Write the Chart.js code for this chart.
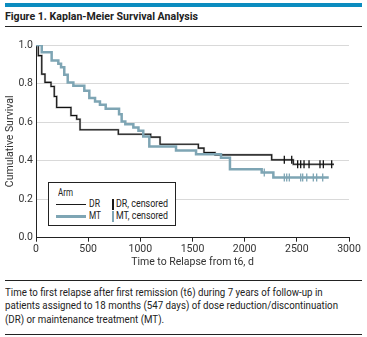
<!DOCTYPE html>
<html>
<head>
<meta charset="utf-8">
<script src="https://cdn.jsdelivr.net/npm/chart.js@4.4.0/dist/chart.umd.min.js"></script>
<style>
  body { margin: 0; background: #fff; font-family: 'Roboto', 'Liberation Sans', sans-serif; color: #222; }
  #page { position: relative; width: 367px; height: 337px; overflow: hidden; }
  .abs { position: absolute; }
  #bar { left: 5px; top: 3px; width: 357px; height: 4px; background: #0b8cbf; }
  #title { left: 5px; top: 9px; font-size: 11.5px; font-weight: bold; line-height: 14px; white-space: nowrap; transform-origin: 0 0; }
  .rule { left: 5px; width: 357px; height: 1px; background: #222; }
  #wrap { left: 0; top: 30px; width: 367px; height: 248px; }
  #legend { left: 48px; top: 182px; width: 126px; height: 42px; border: 1px solid #222; background: #fff; font-size: 11px; }
  #legend .t { position: absolute; line-height: 12px; white-space: nowrap; transform-origin: 0 0; }
  #caption { left: 5px; top: 286px; font-size: 11px; line-height: 13.4px; white-space: nowrap; transform-origin: 0 0; }
</style>
</head>
<body>
<div id="page">
  <div class="abs" id="bar"></div>
  <div class="abs" id="title">Figure 1. Kaplan-Meier Survival Analysis</div>
  <div class="abs rule" style="top:26px"></div>
  <div class="abs" id="wrap"><canvas id="km"></canvas></div>
  <div class="abs" id="legend">
    <div class="t" id="lgArm" style="left:9px; top:4px">Arm</div>
    <div style="position:absolute; left:7px; top:21px; width:30px; height:1px; background:#1a1a1a"></div>
    <div class="t" id="lgDr" style="left:40px; top:15px">DR</div>
    <div style="position:absolute; left:63px; top:16px; width:1.5px; height:11px; background:#1a1a1a"></div>
    <div class="t" id="lgDrC" style="left:67px; top:15px">DR, censored</div>
    <div style="position:absolute; left:7px; top:32px; width:30px; height:3px; background:#7ea5b4"></div>
    <div class="t" id="lgMt" style="left:40px; top:27px">MT</div>
    <div style="position:absolute; left:63px; top:28px; width:1.5px; height:11px; background:#7ea5b4"></div>
    <div class="t" id="lgMtC" style="left:67px; top:27px">MT, censored</div>
  </div>
  <div class="abs rule" style="top:280px"></div>
  <div class="abs" id="caption"><span id="cap1">Time to first relapse after first remission (t6) during 7 years of follow-up in</span><br><span id="cap2">patients assigned to 18 months (547 days) of dose reduction/discontinuation</span><br>(DR) or maintenance treatment (MT).</div>
  <div class="abs rule" style="top:334px"></div>
</div>
<script>
// step points: time (days) and survival after the drop
var drTimes = [0, 22, 55, 86, 144, 175, 198, 335, 390, 422, 789, 1099, 1189, 1556, 1610, 1716, 2259, 2466, 2856];
var drSurv  = [1.0, 0.945, 0.849, 0.806, 0.785, 0.733, 0.676, 0.634, 0.615, 0.56, 0.537, 0.522, 0.485, 0.465, 0.442, 0.43, 0.404, 0.381, 0.381];
var mtTimes = [0, 55, 150, 214, 240, 271, 304, 358, 463, 511, 566, 613, 668, 796, 821, 856, 933, 982, 1028, 1086, 1342, 1534, 1773, 1859, 2163, 2275, 2806];
var mtSurv  = [1.0, 0.962, 0.92, 0.903, 0.884, 0.846, 0.806, 0.788, 0.762, 0.725, 0.707, 0.69, 0.669, 0.641, 0.603, 0.589, 0.572, 0.555, 0.525, 0.473, 0.452, 0.433, 0.415, 0.355, 0.338, 0.312, 0.312];

// censored observations
var drCensTimes = [2380, 2451, 2508, 2537, 2569, 2617, 2722, 2754, 2834];
var drCensSurv  = [0.404, 0.404, 0.381, 0.381, 0.381, 0.381, 0.381, 0.381, 0.381];
var mtCensTimes = [2188, 2380, 2403, 2428, 2537, 2556, 2595, 2658, 2690, 2748];
var mtCensSurv  = [0.338, 0.312, 0.312, 0.312, 0.312, 0.312, 0.312, 0.312, 0.312, 0.312];

var xTicks = [0, 500, 1000, 1500, 2000, 2500, 3000];
var yTicks = [0, 0.2, 0.4, 0.6, 0.8, 1.0];

function pts(xs, ys) {
    return xs.map(function (x, i) { return { x: x, y: ys[i] }; });
}

// squeeze text to the narrow look of the original
function fit(id, w, target) {
    var el = document.getElementById(target || id);
    var cur = document.getElementById(id).getBoundingClientRect().width;
    el.style.transform = 'scaleX(' + (w / cur) + ')';
}
fit('title', 193);
fit('cap2', 333, 'caption');
fit('lgArm', 15);
fit('lgDr', 11);
fit('lgMt', 12);
fit('lgDrC', 52);
fit('lgMtC', 52);

var dr = pts(drTimes, drSurv);
var mt = pts(mtTimes, mtSurv);

Chart.defaults.font.family = "'Roboto', sans-serif";
Chart.defaults.font.size = 10.5;
Chart.defaults.color = '#333';

// lower "order" is drawn on top
new Chart(document.getElementById('km'), {
    type: 'scatter',
    data: {
        datasets: [{
            data: dr, showLine: true, stepped: true, order: 4,
            borderColor: '#b0b0b0', borderWidth: 2.2, pointRadius: 0
        }, {
            data: dr, showLine: true, stepped: true, order: 3,
            borderColor: '#111', borderWidth: 1.1, pointRadius: 0
        }, {
            data: mt, showLine: true, stepped: true, order: 2,
            borderColor: '#7ea5b4', borderWidth: 2.5, pointRadius: 0
        }, {
            data: pts(drCensTimes, drCensSurv), showLine: false, order: 1,
            pointStyle: 'line', rotation: 90, pointRadius: 4,
            borderColor: '#111', pointBorderWidth: 1.3
        }, {
            data: pts(mtCensTimes, mtCensSurv), showLine: false, order: 0,
            pointStyle: 'line', rotation: 90, pointRadius: 4,
            borderColor: '#7ea5b4', pointBorderWidth: 1.3
        }]
    },
    options: {
        responsive: true,
        maintainAspectRatio: false,
        animation: false,
        layout: { padding: { left: 0, right: 18, top: 15, bottom: 0 } },
        plugins: { legend: { display: false }, tooltip: { enabled: false } },
        scales: {
            x: {
                type: 'linear', min: 0, max: 3000,
                afterBuildTicks: function (axis) { axis.ticks = xTicks.map(function (v) { return { value: v }; }); },
                afterFit: function (axis) { axis.height = 40.3; },
                ticks: { padding: 1, maxRotation: 0, callback: function (v) { return String(v); } },
                grid: { drawOnChartArea: false, drawTicks: true, tickLength: 4, color: '#222' },
                border: { color: '#222' },
                title: { display: true, text: 'Time to Relapse from t6, d', padding: { top: 0, bottom: 9 } }
            },
            y: {
                min: 0, max: 1,
                afterBuildTicks: function (axis) { axis.ticks = yTicks.map(function (v) { return { value: v }; }); },
                afterFit: function (axis) { axis.width = 36; },
                ticks: { padding: 3, callback: function (v) { return v.toFixed(1); } },
                grid: { color: '#d9d9d9', drawTicks: false },
                border: { color: '#222' },
                title: { display: true, text: 'Cumulative Survival', padding: { top: 4, bottom: 0 } }
            }
        }
    }
});
</script>
</body>
</html>
